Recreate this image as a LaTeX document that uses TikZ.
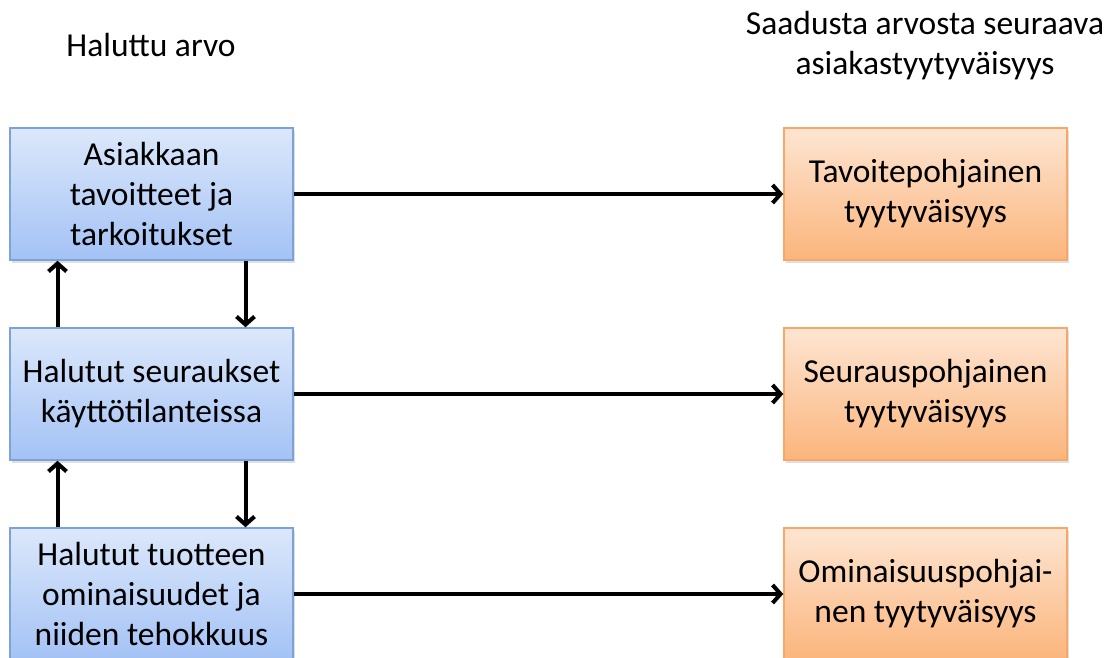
\documentclass[tikz,border=0pt]{standalone}
\usepackage{fontspec}
\setmainfont{Carlito}
\usetikzlibrary{arrows.meta,shadows}
\definecolor{bluetop}{HTML}{DCE8FB}
\definecolor{bluebot}{HTML}{A3C2F5}
\definecolor{blueline}{HTML}{7DA2D8}
\definecolor{orangetop}{HTML}{FDE5D2}
\definecolor{orangebot}{HTML}{FBB57C}
\definecolor{orangeline}{HTML}{F5A867}
\tikzset{
  valuebox/.style = {draw = blueline, line width = 1.5pt, top color = bluetop, bottom color = bluebot,
    minimum width = 283pt, minimum height = 132pt, inner sep = 0pt,
    drop shadow = {opacity = 0.25, shadow xshift = 2pt, shadow yshift = -3pt}},
  satbox/.style = {valuebox, draw = orangeline, top color = orangetop, bottom color = orangebot},
  link/.style = {-{Straight Barb[length = 8pt, width = 18pt, line width = 4pt]}, line width = 4pt}
}
\begin{document}
\begin{tikzpicture}[x = 1pt, y = -1pt, align = center, font = \fontsize{33.5}{40}\selectfont]
    \useasboundingbox (0, 0) rectangle (1104, 658);
        \node (t0) at (151, 45) {Haluttu arvo};
        \node (t1) at (925, 46) {Saadusta arvosta seuraava\\asiakastyytyväisyys};
        \node[valuebox] (h1) at (151.5, 194) {Asiakkaan\\tavoitteet ja\\tarkoitukset};
        \node[valuebox] (h2) at (151.5, 394) {Halutut seuraukset\\käyttötilanteissa};
        \node[valuebox] (h3) at (151.5, 594) {Halutut tuotteen\\ominaisuudet ja\\niiden tehokkuus};
        \node[satbox] (s1) at (925.5, 194) {Tavoitepohjainen\\tyytyväisyys};
        \node[satbox] (s2) at (925.5, 394) {Seurauspohjainen\\tyytyväisyys};
        \node[satbox] (s3) at (925.5, 594) {Ominaisuuspohjai-\\nen tyytyväisyys};
        \draw[link] (h1) -- (s1);
        \draw[link] (h2) -- (s2);
        \draw[link] (h3) -- (s3);
        \draw[link] ([xshift = -94pt]h2.north) -- ([xshift = -94pt]h1.south);
        \draw[link] ([xshift = 94pt]h1.south) -- ([xshift = 94pt]h2.north);
        \draw[link] ([xshift = -94pt]h3.north) -- ([xshift = -94pt]h2.south);
        \draw[link] ([xshift = 94pt]h2.south) -- ([xshift = 94pt]h3.north);
    \end{tikzpicture}
\end{document}
